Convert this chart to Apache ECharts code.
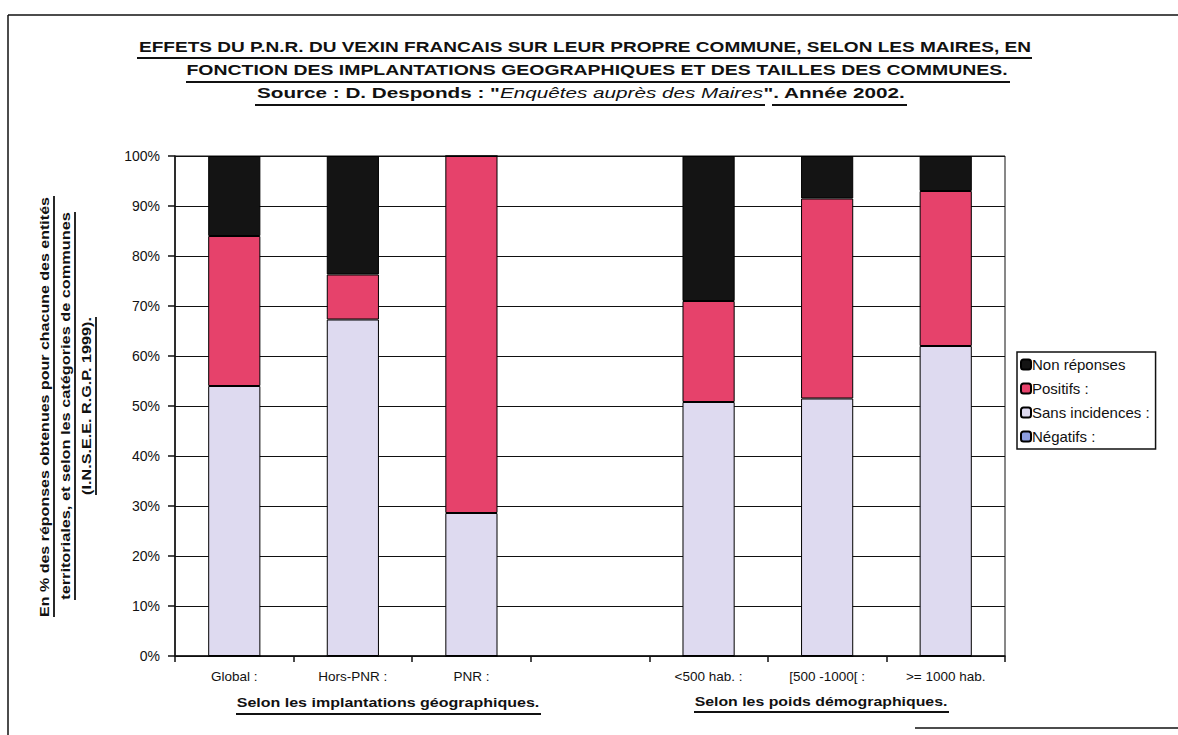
<!DOCTYPE html>
<html>
<head>
<meta charset="utf-8">
<script src="https://cdn.jsdelivr.net/npm/echarts@6/dist/echarts.min.js"></script>
<style>
html,body{margin:0;padding:0;background:#fff;}
#chart{width:1178px;height:735px;}
</style>
</head>
<body>
<div id="chart"></div>
<script>
// ---- data ----
const categories = ['Global :', 'Hors-PNR :', 'PNR :', '', '<500 hab. :', '[500 -1000[ :', '>= 1000 hab.'];
const negatifs       = [0, 0, 0, null, 0, 0, 0];
const sansIncidences = [54, 67.3, 28.6, null, 50.8, 51.5, 62];
const positifs       = [30, 9, 71.4, null, 20.2, 40, 31];
const nonReponses    = [16, 23.7, 0, null, 29, 8.5, 7];
const yTicks = [0, 10, 20, 30, 40, 50, 60, 70, 80, 90, 100];
const groupLabels = ['Selon les implantations géographiques.', 'Selon les poids démographiques.'];
const titleLines = [
  'EFFETS DU P.N.R. DU VEXIN FRANCAIS SUR LEUR PROPRE COMMUNE, SELON LES MAIRES, EN',
  'FONCTION DES IMPLANTATIONS GEOGRAPHIQUES ET DES TAILLES DES COMMUNES.'
];
const sourceParts = ['Source : D. Desponds : "', 'Enquêtes auprès des Maires', '". Année 2002.'];
const yTitleLines = [
  'En % des réponses obtenues pour chacune des entités',
  'territoriales, et selon les catégories de communes',
  '(I.N.S.E.E. R.G.P. 1999).'
];

const FONT = '"Liberation Sans", Arial, sans-serif';
const chart = echarts.init(document.getElementById('chart'), null, {renderer: 'svg'});

const mctx = document.createElement('canvas').getContext('2d');
function measure(text, font) { mctx.font = font; return mctx.measureText(text).width; }

function line(x1, y1, x2, y2, w) {
  return {type: 'line', silent: true, shape: {x1, y1, x2, y2}, style: {stroke: '#111', lineWidth: w || 1.5}};
}
// text stretched horizontally (letter-spaced look) to a target width
function wideText(text, size, cx, cy, targetW, rotation) {
  const font = 'bold ' + size + 'px ' + FONT;
  const s = targetW / measure(text, font);
  return {type: 'text', silent: true, x: cx, y: cy, rotation: rotation || 0, scaleX: s, scaleY: 1,
          style: {text, font, fill: '#111', align: 'center', verticalAlign: 'middle'}};
}
function bar(name, data, color) {
  return {
    name, type: 'bar', stack: 'total', data, barWidth: '44%',
    itemStyle: {color, borderColor: '#000', borderWidth: 1},
    emphasis: {disabled: true}
  };
}

// source line (bold + italic parts)
const srcSize = 14.5;
const srcFontB = 'bold ' + srcSize + 'px ' + FONT;
const srcFontI = 'italic ' + srcSize + 'px ' + FONT;
const srcW = measure(sourceParts[0], srcFontB) + measure(sourceParts[1], srcFontI) + measure(sourceParts[2], srcFontB);
const srcScale = 648 / srcW;

const option = {
  backgroundColor: '#fff',
  animation: false,
  textStyle: {fontFamily: FONT},
  legend: {
    orient: 'vertical', left: 1017, top: 352,
    data: ['Non réponses', 'Positifs :', 'Sans incidences :', 'Négatifs :'],
    selectedMode: false,
    itemWidth: 10, itemHeight: 10, itemGap: 9,
    borderColor: '#111', borderWidth: 1.5, padding: [5, 6, 5, 3],
    textStyle: {fontFamily: FONT, fontSize: 15, color: '#111', padding: [0, 0, 0, -4]}
  },
  grid: {left: 175, right: 173, top: 156, bottom: 79, show: true, borderColor: '#111', borderWidth: 1, backgroundColor: 'transparent'},
  xAxis: {
    type: 'category', data: categories,
    axisLine: {lineStyle: {color: '#111', width: 1.5}},
    axisTick: {show: true, length: 6, lineStyle: {color: '#111', width: 1.5}},
    axisLabel: {fontFamily: FONT, fontSize: 13.5, color: '#111', margin: 13},
    splitLine: {show: false}
  },
  yAxis: {
    type: 'value', min: yTicks[0], max: yTicks[yTicks.length - 1], interval: yTicks[1] - yTicks[0],
    axisLine: {show: true, lineStyle: {color: '#111', width: 1.5}},
    axisTick: {show: true, length: 7, lineStyle: {color: '#111', width: 1.5}},
    axisLabel: {fontFamily: FONT, fontSize: 14, color: '#111', margin: 15, formatter: '{value}%'},
    splitLine: {lineStyle: {color: '#111', width: 1.2}}
  },
  series: [
    bar('Négatifs :', negatifs, '#8d9ee0'),
    bar('Sans incidences :', sansIncidences, '#dedaf0'),
    bar('Positifs :', positifs, '#e6426b'),
    bar('Non réponses', nonReponses, '#141414')
  ],
  graphic: [
    // frame
    line(8, 15, 1178, 15, 1.5),
    line(8, 15, 8, 735, 1.5),
    line(915, 728, 1178, 728, 1.5),
    // title
    wideText(titleLines[0], 15, 585, 47, 893),
    wideText(titleLines[1], 15, 597, 70, 822),
    {type: 'text', silent: true, x: 581, y: 93, scaleX: srcScale, scaleY: 1,
     style: {
       text: '{b|' + sourceParts[0] + '}{i|' + sourceParts[1] + '}{b|' + sourceParts[2] + '}',
       align: 'center', verticalAlign: 'middle',
       rich: {
         b: {fontFamily: FONT, fontSize: srcSize, fontWeight: 'bold', fill: '#111', color: '#111'},
         i: {fontFamily: FONT, fontSize: srcSize, fontStyle: 'italic', fill: '#111', color: '#111'}
       }
     }},
    line(137, 58, 1032, 58, 2),
    line(186, 82, 1010, 82, 2),
    line(255, 105, 765, 105, 2),
    line(772, 105, 907, 105, 2),
    // y title
    wideText(yTitleLines[0], 12.5, 45, 407, 420, Math.PI / 2),
    wideText(yTitleLines[1], 12.5, 66, 406, 388, Math.PI / 2),
    wideText(yTitleLines[2], 12.5, 87, 406, 178, Math.PI / 2),
    line(54, 196, 54, 617, 1.8),
    line(75, 212, 75, 600, 1.8),
    line(96, 317, 96, 495, 1.8),
    // group labels
    wideText(groupLabels[0], 12.5, 388, 703, 303),
    wideText(groupLabels[1], 12.5, 821, 702, 253),
    line(236, 714, 541, 714, 2),
    line(694, 712, 949, 712, 2)
  ]
};
chart.setOption(option);
</script>
</body>
</html>
